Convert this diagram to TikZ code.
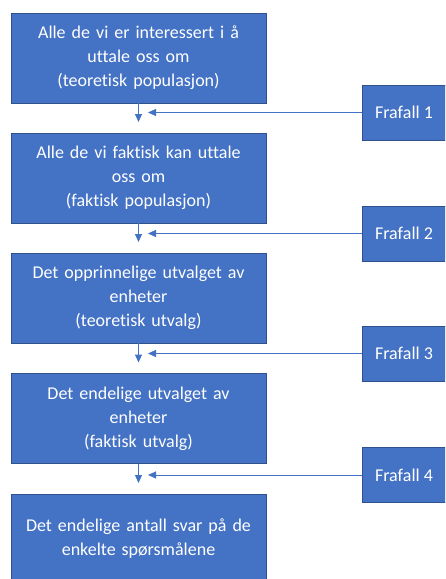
\documentclass[tikz,border=0pt]{standalone}
\usepackage{fontspec}
\setmainfont{Carlito}[Ligatures=NoCommon]
\usetikzlibrary{arrows.meta}
\definecolor{boxfill}{HTML}{4472C4}
\definecolor{boxline}{HTML}{2F528F}
\begin{document}
\begin{tikzpicture}[x=1pt,y=-1pt,
  stage/.style={draw=boxline, line width=0.8pt, fill=boxfill, text=white,
    minimum width=255pt, minimum height=90pt, inner sep=0pt,
    align=center, text width=250pt,
    font=\fontsize{18pt}{24pt}\selectfont},
  loss/.style={draw=boxline, line width=0.8pt, fill=boxfill, text=white,
    minimum width=84pt, minimum height=55pt, inner sep=0pt,
    font=\fontsize{18pt}{22pt}\selectfont},
  flow/.style={draw=boxfill, line width=1pt, -{Triangle[length=8pt,width=7pt]}}]
\useasboundingbox (0,0) rectangle (445,579);
\clip (0,0) rectangle (445,579);
% main stages
\node[stage] (b1) at (138.5,58)  {Alle de vi er interessert i å\\uttale oss om\\(teoretisk populasjon)};
\node[stage] (b2) at (138.5,178) {Alle de vi faktisk kan uttale\\oss om\\(faktisk populasjon)};
\node[stage] (b3) at (138.5,298) {Det opprinnelige utvalget av\\enheter\\(teoretisk utvalg)};
\node[stage] (b4) at (138.5,418.5) {Det endelige utvalget av\\enheter\\(faktisk utvalg)};
\node[stage] (b5) at (138.5,539) {Det endelige antall svar på de\\enkelte spørsmålene};
% dropout boxes
\node[loss] (f1) at (404,112.5) {Frafall 1};
\node[loss] (f2) at (404,233.5) {Frafall 2};
\node[loss] (f3) at (404,353.5) {Frafall 3};
\node[loss] (f4) at (404,475)   {Frafall 4};
% arrow end points
\coordinate (v1) at (138.5,122);
\coordinate (v2) at (138.5,242);
\coordinate (v3) at (138.5,362.5);
\coordinate (v4) at (138.5,483);
\coordinate (h1) at (148,112.5);
\coordinate (h2) at (148,233.5);
\coordinate (h3) at (148,353.5);
\coordinate (h4) at (148,475);
% downward flow
\draw[flow] (b1.south) -- (v1);
\draw[flow] (b2.south) -- (v2);
\draw[flow] (b3.south) -- (v3);
\draw[flow] (b4.south) -- (v4);
% dropout arrows
\draw[flow] (f1.west) -- (h1);
\draw[flow] (f2.west) -- (h2);
\draw[flow] (f3.west) -- (h3);
\draw[flow] (f4.west) -- (h4);
\end{tikzpicture}
\end{document}
